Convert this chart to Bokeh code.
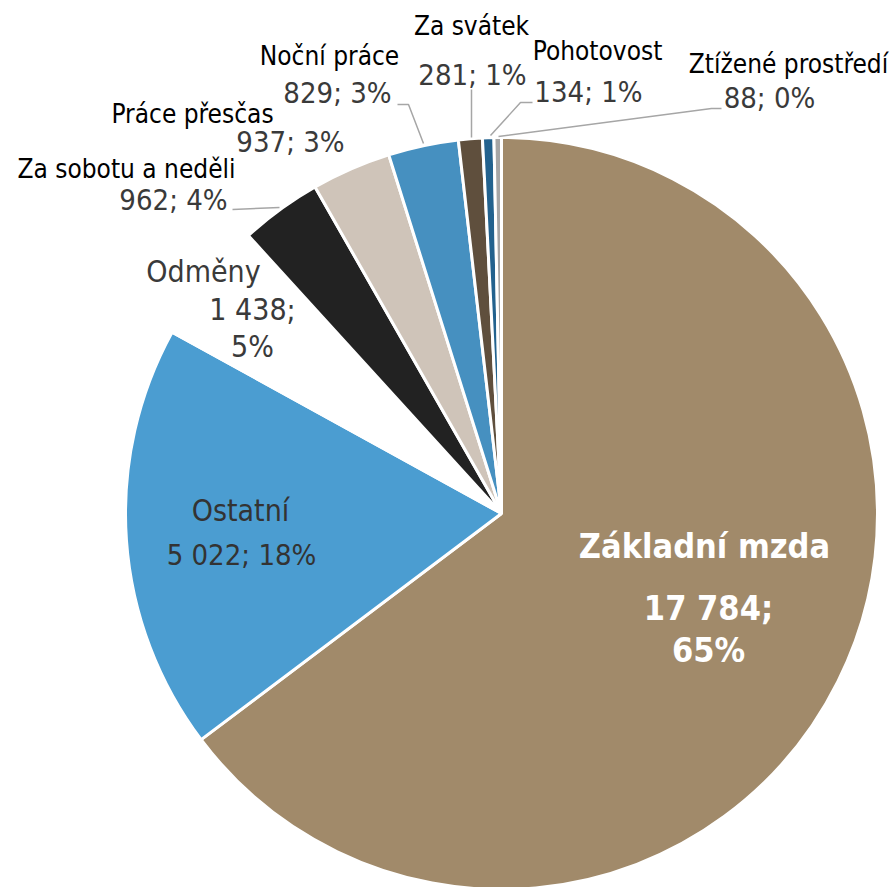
import math
from bokeh.plotting import figure
from bokeh.models import Range1d, ColumnDataSource
from bokeh.core.properties import value
from bokeh.embed import file_html
from bokeh.resources import INLINE

# ---- data ----
categories = ["Základní mzda", "Ostatní", "Odměny", "Za sobotu a neděli", "Práce přesčas",
              "Noční práce", "Za svátek", "Pohotovost", "Ztížené prostředí"]
amounts = [17784, 5022, 1438, 962, 937, 829, 281, 134, 88]
value_labels = ["17 784;\n65%", "5 022; 18%", "1 438;\n5%", "962; 4%", "937; 3%",
                "829; 3%", "281; 1%", "134; 1%", "88; 0%"]
colors = ["#A18A6A", "#4B9DD1", "#FFFFFF", "#222222", "#CFC4B9",
          "#4690C0", "#5F4F3D", "#23628E", "#A6A6A6"]

# ---- layout (screen px) ----
W, H = 894, 887
CX, CY, R = 501, 513, 376

def Y(sy):
    return 887 - sy

FONT = "DejaVu Sans Condensed"

total = float(sum(amounts))
starts, ends = [], []
cum = 0.0
for a in amounts:
    starts.append(math.pi / 2 - 2 * math.pi * cum / total)
    cum += a
    ends.append(math.pi / 2 - 2 * math.pi * cum / total)

p = figure(width=W, height=H, output_backend="svg", toolbar_location=None,
           x_range=Range1d(0, W), y_range=Range1d(887 - H, 887),
           min_border=0)
p.axis.visible = False
p.grid.visible = False
p.outline_line_color = None
p.background_fill_color = "white"
p.border_fill_color = "white"

src = ColumnDataSource(dict(start=starts, end=ends, color=colors, cat=categories))
p.wedge(x=CX, y=Y(CY), radius=R, start_angle="start", end_angle="end",
        direction="clock", fill_color="color", line_color="white", line_width=3,
        source=src)

# leader lines (screen coords)
leaders = [
    [(232, 209), (279, 207)],
    [(397, 104), (408, 104), (423, 143)],
    [(471, 89), (471, 137)],
    [(532, 102), (520, 102), (490, 135)],
    [(721, 108), (711, 108), (498, 136)],
]
for pts in leaders:
    p.line([q[0] for q in pts], [Y(q[1]) for q in pts], line_color="#A6A6A6", line_width=1.5)

# label placement: (name x, name baseline, value x, value baseline, name size, value size, name color, value color, bold)
place = {
    "Základní mzda": (704, 558, 708, 620, 34, 34, "#FFFFFF", "#FFFFFF", True),
    "Ostatní": (240, 521, 241, 565, 30, 29, "#333333", "#333333", False),
    "Odměny": (203, 282, 252, 320, 30, 30, "#3A3A3A", "#3A3A3A", False),
    "Za sobotu a neděli": (126, 178, 173, 210, 26, 29, "#000000", "#3A3A3A", False),
    "Práce přesčas": (192, 123, 290, 152, 26, 29, "#000000", "#3A3A3A", False),
    "Noční práce": (329, 65, 337, 103, 26, 29, "#000000", "#3A3A3A", False),
    "Za svátek": (471, 35, 472, 85, 26, 29, "#000000", "#3A3A3A", False),
    "Pohotovost": (597, 60, 588, 102, 26, 29, "#000000", "#3A3A3A", False),
    "Ztížené prostředí": (788, 73, 769, 108, 26, 29, "#000000", "#3A3A3A", False),
}
line_gap = {"Základní mzda": 42, "Odměny": 37}

def mid(baseline, size):
    return baseline - 0.36 * size

for cat, vl in zip(categories, value_labels):
    nx, ny, vx, vy, ns, vs, nc, vc, bold = place[cat]
    style = "bold" if bold else "normal"
    p.text(x=[nx], y=[Y(mid(ny, ns))], text=[cat], text_align="center", text_baseline="middle",
           text_font=value(FONT), text_font_size=f"{ns}px", text_color=nc,
           text_font_style=style)
    parts = vl.split("\n")
    for i, part in enumerate(parts):
        yy = vy + i * line_gap.get(cat, 0)
        p.text(x=[vx], y=[Y(mid(yy, vs))], text=[part], text_align="center", text_baseline="middle",
               text_font=value(FONT), text_font_size=f"{vs}px", text_color=vc,
               text_font_style=style)

open("out.html", "w").write(file_html(p, INLINE))
